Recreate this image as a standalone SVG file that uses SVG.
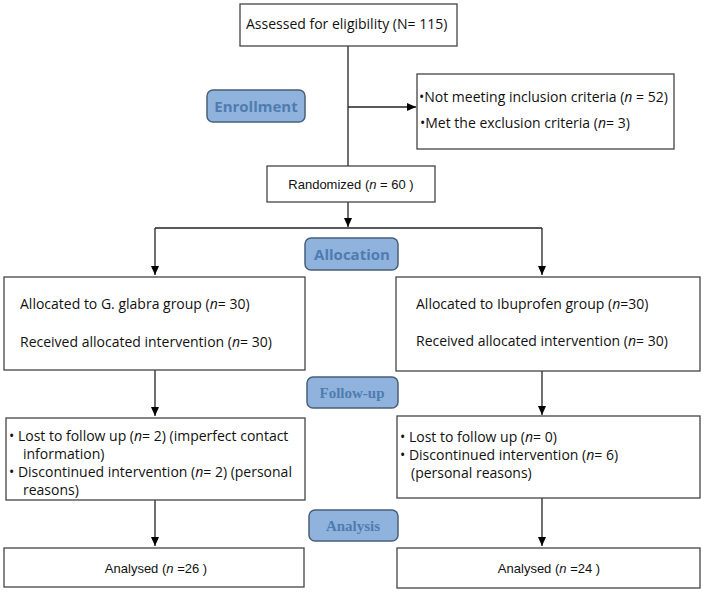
<svg xmlns="http://www.w3.org/2000/svg" width="704" height="598" viewBox="0 0 704 598">
<defs>
<marker id="ah" markerWidth="10" markerHeight="10" refX="9" refY="5" orient="auto" markerUnits="userSpaceOnUse"><path d="M0,1 L9,5 L0,9 Z" fill="#000"/></marker>
<style>
.box{fill:#fff;stroke:#444;stroke-width:1.3}
.pill{fill:#8fb3dc;stroke:#4a5f7a;stroke-width:1.5}
.pt{font-family:"Open Sans","DejaVu Sans",sans-serif;font-weight:bold;font-size:15px;fill:#4f7cb0;text-anchor:middle}
.ps{font-family:"Liberation Serif",serif;font-weight:bold;font-size:15px;fill:#4f7cb0;text-anchor:middle}
.t{font-family:"Open Sans","DejaVu Sans",sans-serif;font-size:14px;fill:#111}
.a{font-family:"Liberation Sans",Arial,sans-serif;font-size:13px;fill:#111;text-anchor:middle}
.ln{stroke:#222;stroke-width:1.3;fill:none}
</style>
</defs>
<rect width="704" height="598" fill="#fff"/>
<g id="connectors">
<path class="ln" d="M348,46 V166"/>
<path class="ln" d="M348,107 H416" marker-end="url(#ah)"/>
<path class="ln" d="M348,202 V227" marker-end="url(#ah)"/>
<path class="ln" d="M155,228 H542" stroke="#888"/>
<path class="ln" d="M155,228 V275" marker-end="url(#ah)"/>
<path class="ln" d="M542,228 V275" marker-end="url(#ah)"/>
<path class="ln" d="M155,370 V416" marker-end="url(#ah)"/>
<path class="ln" d="M542,371 V415" marker-end="url(#ah)"/>
<path class="ln" d="M155,500 V546" marker-end="url(#ah)"/>
<path class="ln" d="M542,498 V546" marker-end="url(#ah)"/>
</g>
<g id="assessed"><rect class="box" x="240" y="4" width="217" height="42"/><text class="t" x="246" y="29">Assessed for eligibility (N= 115)</text></g>
<g id="enrollment"><rect class="pill" x="207" y="90" width="98" height="32" rx="6"/><text class="pt" x="256" y="112">Enrollment</text></g>
<g id="excluded"><rect class="box" x="417" y="74" width="257" height="75"/>
<text class="t" x="419" y="102">•Not meeting inclusion criteria (<tspan font-style="italic">n</tspan> = 52)</text>
<text class="t" x="420" y="128">•Met the exclusion criteria (<tspan font-style="italic">n</tspan>= 3)</text></g>
<g id="randomized"><rect class="box" x="267" y="166" width="168" height="36"/><text class="a" x="351" y="189">Randomized (<tspan font-style="italic">n</tspan> = 60 )</text></g>
<g id="allocation"><rect class="pill" x="305" y="238" width="93" height="32" rx="6"/><text class="pt" x="352" y="260">Allocation</text></g>
<g id="alloc-left"><rect class="box" x="4" y="277" width="301" height="93"/>
<text class="t" x="20" y="309">Allocated to G. glabra group (<tspan font-style="italic">n</tspan>= 30)</text>
<text class="t" x="20" y="347">Received allocated intervention (<tspan font-style="italic">n</tspan>= 30)</text></g>
<g id="alloc-right"><rect class="box" x="396" y="277" width="304" height="94"/>
<text class="t" x="416" y="309">Allocated to Ibuprofen group (<tspan font-style="italic">n</tspan>=30)</text>
<text class="t" x="416" y="346">Received allocated intervention (<tspan font-style="italic">n</tspan>= 30)</text></g>
<g id="followup"><rect class="pill" x="307" y="377" width="91" height="31" rx="6"/><text class="ps" x="352" y="398">Follow-up</text></g>
<g id="fu-left"><rect class="box" x="6" y="418" width="299" height="82"/>
<text class="t" x="9" y="441">•  Lost to follow up (<tspan font-style="italic">n</tspan>= 2) (imperfect contact</text>
<text class="t" x="23" y="459">information)</text>
<text class="t" x="9" y="477">•  Discontinued intervention (<tspan font-style="italic">n</tspan>= 2) (personal</text>
<text class="t" x="23" y="495">reasons)</text></g>
<g id="fu-right"><rect class="box" x="397" y="416" width="303" height="82"/>
<text class="t" x="400" y="442">•  Lost to follow up (<tspan font-style="italic">n</tspan>= 0)</text>
<text class="t" x="400" y="460">•  Discontinued intervention (<tspan font-style="italic">n</tspan>= 6)</text>
<text class="t" x="411" y="478">(personal reasons)</text></g>
<g id="analysis"><rect class="pill" x="309" y="510" width="89" height="31" rx="6"/><text class="ps" x="353" y="531">Analysis</text></g>
<g id="an-left"><rect class="box" x="4" y="548" width="300" height="39"/><text class="a" x="156" y="573">Analysed (<tspan font-style="italic">n</tspan> =26 )</text></g>
<g id="an-right"><rect class="box" x="397" y="548" width="303" height="40"/><text class="a" x="549" y="573">Analysed (<tspan font-style="italic">n</tspan> =24 )</text></g>
</svg>
